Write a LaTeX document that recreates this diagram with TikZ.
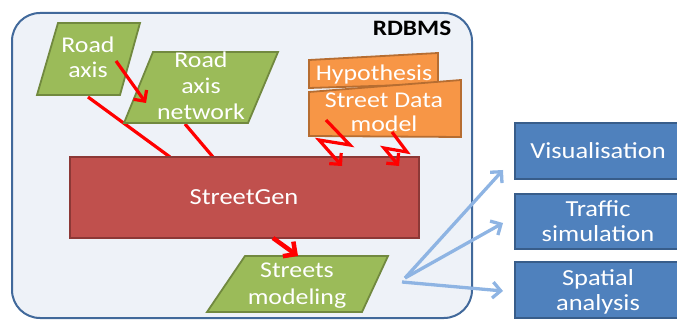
\documentclass[tikz,border=0pt]{standalone}
\usepackage{fontspec}
\setmainfont[FakeStretch=1.15]{Carlito}
\usetikzlibrary{arrows.meta}
\definecolor{bgfill}{HTML}{EEF2F8}
\definecolor{bgline}{HTML}{41699B}
\definecolor{gfill}{HTML}{9BBB59}
\definecolor{gline}{HTML}{71893F}
\definecolor{ofill}{HTML}{F79646}
\definecolor{oline}{HTML}{B66D31}
\definecolor{rfill}{HTML}{C0504D}
\definecolor{rline}{HTML}{8C3836}
\definecolor{bfill}{HTML}{4F81BD}
\definecolor{bline}{HTML}{385D8A}
\definecolor{larrow}{HTML}{8EB4E3}
\tikzset{
  greenshape/.style={fill=gfill,draw=gline,line width=1.8pt,line join=miter},
  orangeshape/.style={fill=ofill,draw=oline,line width=1.8pt},
  redbox/.style={fill=rfill,draw=rline,line width=1.8pt},
  bluebox/.style={fill=bfill,draw=bline,line width=1.8pt},
  wtext/.style={text=white,align=center,inner sep=0pt,anchor=base,font=\fontsize{22.5}{25}\selectfont},
  redline/.style={draw=red,line width=3.2pt},
  redarrow/.style={draw=red,line width=3.2pt,-{Straight Barb[length=8pt,width=16pt]}},
  bluearrow/.style={draw=larrow,line width=3.3pt,-{Straight Barb[length=8pt,width=16pt]}}
}
\begin{document}
\begin{tikzpicture}[x=1pt,y=-1pt]
\useasboundingbox (0,0) rectangle (677,320);
% container
\draw[fill=bgfill,draw=bgline,line width=2pt,rounded corners=28pt] (12,13) rectangle (472,318);
\node[anchor=base,inner sep=0pt,font=\fontsize{22}{25}\selectfont\bfseries] (rdbms) at (412,36) {RDBMS};

% connector points
\coordinate (ra1) at (88,97);
\coordinate (sg1) at (170,157);
\coordinate (ran1) at (185,124);
\coordinate (sg2) at (213,157);

% lines from road axis shapes to StreetGen
\draw[redline] (ra1) -- (sg1);
\draw[redline] (ran1) -- (sg2);

% Road axis
\draw[greenshape] (58,23) -- (140,23) -- (120,95) -- (37,95) -- cycle;
\node[wtext] (roadaxis) at (88,78) {Road\\axis};
% Road axis network
\draw[greenshape] (153,52) -- (278,52) -- (248,123) -- (124,123) -- cycle;
\node[wtext,font=\fontsize{22.5}{26}\selectfont] (roadnet) at (201,120) {Road\\axis\\network};

% arrow road axis -> network
\coordinate (ra2) at (116,61);
\coordinate (ran2) at (146,103);
\draw[redarrow] (ra2) -- (ran2);

% Hypothesis and Street Data model
\draw[orangeshape] (309,60) -- (438,53) -- (438,84) -- (309,88) -- cycle;
\node[wtext] (hyp) at (374,81) {Hypothesis};
\draw[orangeshape] (309,92) -- (461,80) -- (461,137) -- (309,136) -- cycle;
\node[wtext,font=\fontsize{22.5}{24}\selectfont] (sdm) at (384,132) {Street Data\\model};

% StreetGen
\draw[redbox] (70,157) rectangle (419,238);
\node[wtext,font=\fontsize{23}{26}\selectfont] (streetgen) at (244,205) {StreetGen};

% zigzag arrows
\coordinate (z1a) at (326,120);
\coordinate (z1b) at (350,145);
\coordinate (z1c) at (319,140);
\coordinate (z1d) at (342,166);
\draw[redarrow,line join=miter] (z1a) -- (z1b) -- (z1c) -- (z1d);
\coordinate (z2a) at (392,132);
\coordinate (z2b) at (407,152);
\coordinate (z2c) at (384,148);
\coordinate (z2d) at (399,166);
\draw[redarrow,line join=miter] (z2a) -- (z2b) -- (z2c) -- (z2d);

% Streets modeling
\draw[greenshape] (245,256) -- (388,256) -- (362,312) -- (207,312) -- cycle;
\node[wtext,font=\fontsize{22.5}{27}\selectfont] (streets) at (297,305) {Streets\\modeling};

% arrow StreetGen -> Streets modeling
\coordinate (sg3) at (273,238);
\coordinate (sm1) at (298,256);
\draw[draw=red,line width=4.5pt,-{Straight Barb[length=9pt,width=18pt]}] (sg3) -- (sm1);

% blue boxes
\draw[bluebox] (515,123) rectangle (678,179);
\node[wtext,font=\fontsize{23}{26}\selectfont] (vis) at (598,159) {Visualisation};
\draw[bluebox] (515,194) rectangle (678,249);
\node[wtext,font=\fontsize{23}{25}\selectfont] (traffic) at (598,242) {Traffic\\simulation};
\draw[bluebox] (515,262) rectangle (678,318);
\node[wtext,font=\fontsize{23}{25}\selectfont] (spatial) at (598,310) {Spatial\\analysis};

% blue arrows
\coordinate (bs1) at (405,278);
\coordinate (bs2) at (402,282);
\coordinate (vt) at (503,170);
\coordinate (tt) at (503,223);
\coordinate (st) at (503,291);
\draw[bluearrow] (bs1) -- (vt);
\draw[bluearrow] (bs1) -- (tt);
\draw[bluearrow] (bs2) -- (st);
\end{tikzpicture}
\end{document}
